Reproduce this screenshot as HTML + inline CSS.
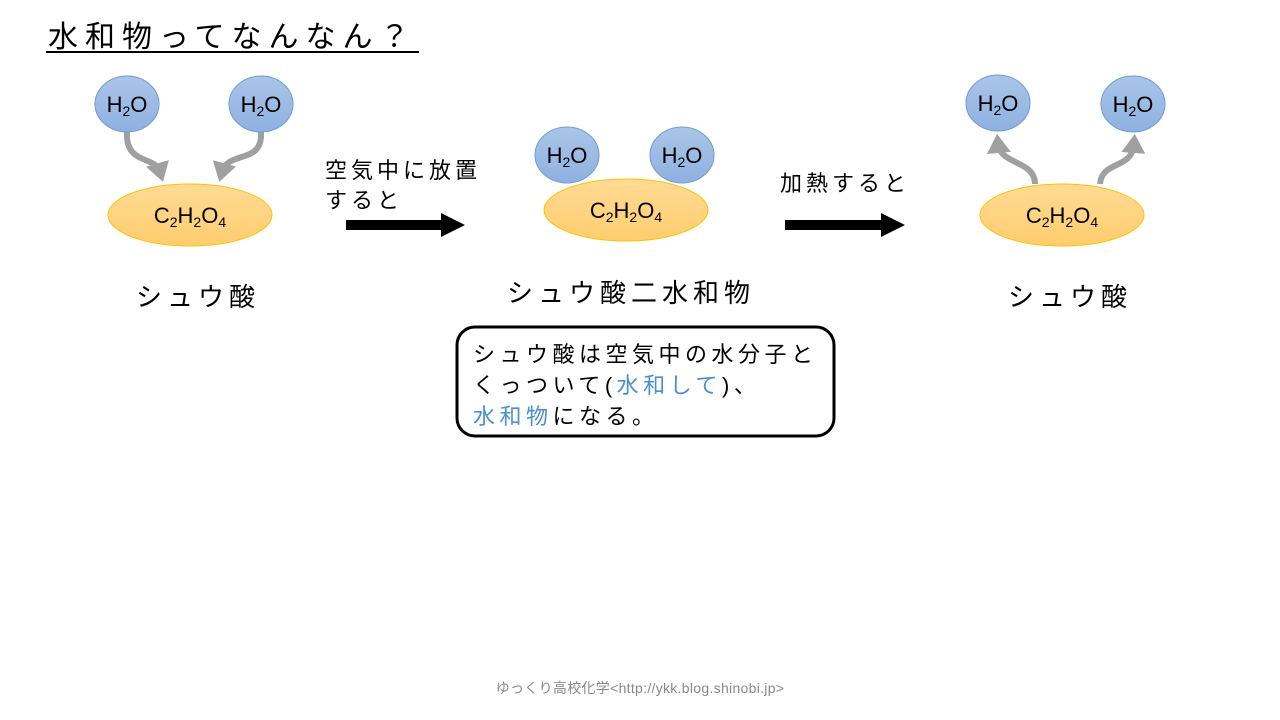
<!DOCTYPE html>
<html><head><meta charset="utf-8"><style>
body{margin:0;width:1280px;height:720px;background:#fff;overflow:hidden;font-family:"Liberation Sans","Noto Sans CJK JP",sans-serif}
svg{position:absolute;left:0;top:0}
</style></head><body>
<svg width="1280" height="720" xmlns="http://www.w3.org/2000/svg" font-family="Liberation Sans, Noto Sans CJK JP, sans-serif">
<defs>
<linearGradient id="b" x1="0" y1="0" x2="0" y2="1"><stop offset="0" stop-color="#aac5e8"/><stop offset="1" stop-color="#8fb1e0"/></linearGradient>
<linearGradient id="y" x1="0" y1="0" x2="0" y2="1"><stop offset="0" stop-color="#ffdb95"/><stop offset="1" stop-color="#ffcd6e"/></linearGradient>
<marker id="g" markerWidth="4" markerHeight="4" refX="1.5" refY="2" orient="auto" markerUnits="strokeWidth"><path d="M0,0 L3.2,2 L0,4 Z" fill="#a0a0a0"/></marker>
</defs>
<text x="48" y="47" font-size="30" fill="#000" letter-spacing="7">水和物ってなんなん？</text>
<line x1="46" y1="52" x2="419" y2="52" stroke="#000" stroke-width="2"/>
<g fill="none" stroke="#a0a0a0" stroke-width="6" marker-end="url(#g)">
<path d="M127,132 C125,165 155,155 160,172"/>
<path d="M261,132 C263,165 228,150 222,172"/>
<path d="M1035,184 C1035,160 1000,165 998,144"/>
<path d="M1100,184 C1102,160 1132,170 1134,144"/>
</g>
<g stroke="#6d9bd6" stroke-width="1" fill="url(#b)">
<ellipse cx="127" cy="104" rx="32" ry="28"/><ellipse cx="261" cy="104" rx="32" ry="28"/>
<ellipse cx="567" cy="155" rx="32" ry="28"/><ellipse cx="682" cy="155" rx="32" ry="28"/>
<ellipse cx="998" cy="103" rx="32" ry="28"/><ellipse cx="1133" cy="104" rx="32" ry="28"/>
</g>
<g stroke="#ffc000" stroke-width="1" fill="url(#y)">
<ellipse cx="190" cy="215" rx="82" ry="31"/><ellipse cx="626" cy="210" rx="82" ry="31"/><ellipse cx="1062" cy="215" rx="82" ry="31"/>
</g>
<g font-size="22" fill="#000" text-anchor="middle">
<text x="127" y="112">H<tspan font-size="14" dy="4">2</tspan><tspan dy="-4">O</tspan></text>
<text x="261" y="112">H<tspan font-size="14" dy="4">2</tspan><tspan dy="-4">O</tspan></text>
<text x="567" y="163">H<tspan font-size="14" dy="4">2</tspan><tspan dy="-4">O</tspan></text>
<text x="682" y="163">H<tspan font-size="14" dy="4">2</tspan><tspan dy="-4">O</tspan></text>
<text x="998" y="111">H<tspan font-size="14" dy="4">2</tspan><tspan dy="-4">O</tspan></text>
<text x="1133" y="112">H<tspan font-size="14" dy="4">2</tspan><tspan dy="-4">O</tspan></text>
<text x="190" y="223">C<tspan font-size="14" dy="4">2</tspan><tspan dy="-4">H</tspan><tspan font-size="14" dy="4">2</tspan><tspan dy="-4">O</tspan><tspan font-size="14" dy="4">4</tspan></text>
<text x="626" y="218">C<tspan font-size="14" dy="4">2</tspan><tspan dy="-4">H</tspan><tspan font-size="14" dy="4">2</tspan><tspan dy="-4">O</tspan><tspan font-size="14" dy="4">4</tspan></text>
<text x="1062" y="223">C<tspan font-size="14" dy="4">2</tspan><tspan dy="-4">H</tspan><tspan font-size="14" dy="4">2</tspan><tspan dy="-4">O</tspan><tspan font-size="14" dy="4">4</tspan></text>
</g>
<g font-size="22" fill="#000" letter-spacing="4">
<text x="325" y="178">空気中に放置</text>
<text x="325" y="208">すると</text>
<text x="780" y="191">加熱すると</text>
</g>
<path d="M346,220 H441 V213 L465,225 L441,237 V230 H346 Z" fill="#000"/>
<path d="M785,220 H881 V213 L905,225 L881,237 V230 H785 Z" fill="#000"/>
<g font-size="26" fill="#000" letter-spacing="5">
<text x="136" y="306">シュウ酸</text>
<text x="507" y="302">シュウ酸二水和物</text>
<text x="1008" y="306">シュウ酸</text>
</g>
<rect x="457" y="327" width="377" height="109" rx="18" fill="#fff" stroke="#000" stroke-width="3"/>
<g font-size="22" fill="#000" letter-spacing="4.5">
<text x="473" y="362">シュウ酸は空気中の水分子と</text>
<text x="473" y="393">くっついて(<tspan fill="#4a8fd4">水和して</tspan>)、</text>
<text x="473" y="424"><tspan fill="#4a8fd4">水和物</tspan>になる。</text>
</g>
<text x="640" y="693" font-size="14" fill="#888" text-anchor="middle" letter-spacing="0.3">ゆっくり高校化学&lt;http://ykk.blog.shinobi.jp&gt;</text>
</svg>
</body></html>
